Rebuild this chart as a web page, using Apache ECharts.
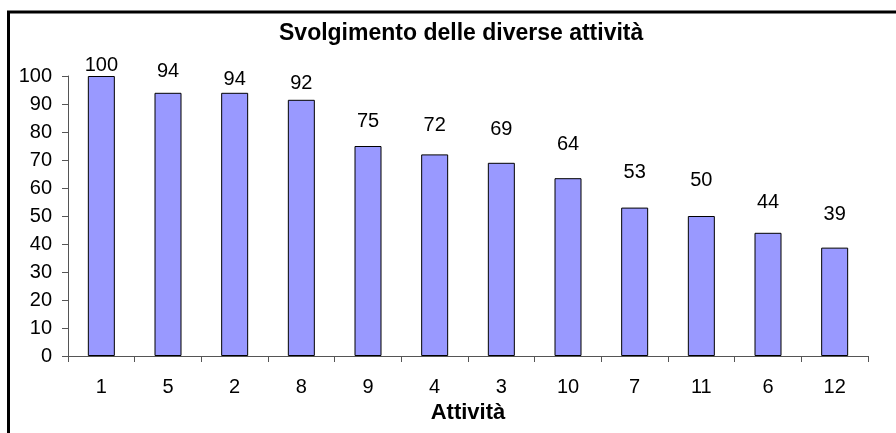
<!DOCTYPE html>
<html>
<head>
<meta charset="utf-8">
<script src="https://cdn.jsdelivr.net/npm/echarts@6/dist/echarts.min.js"></script>
<style>
html,body{margin:0;padding:0;background:#fff;}
#chart{width:896px;height:433px;}
</style>
</head>
<body>
<div id="chart"></div>
<script>
// Data
const titleText = 'Svolgimento delle diverse attività';
const xAxisName = 'Attività';
const categories = ['1', '5', '2', '8', '9', '4', '3', '10', '7', '11', '6', '12'];
const values = [100, 94, 94, 91.5, 75, 72, 69, 63.5, 53, 50, 44, 38.7];
const yTicks = [0, 10, 20, 30, 40, 50, 60, 70, 80, 90, 100];

// Style: per-label gap above bars (labels were placed by hand in the original)
const labelGaps = [1, 11, 3, 6, 15, 19, 23, 24, 25, 26, 20, 23];

const chart = echarts.init(document.getElementById('chart'), null, {renderer: 'canvas'});
const font = 'Liberation Sans, Arial, Helvetica, sans-serif';

chart.setOption({
  backgroundColor: '#ffffff',
  animation: false,
  title: {
    text: titleText,
    left: 274,
    top: 17,
    textStyle: {fontFamily: font, fontSize: 23, fontWeight: 'bold', color: '#000'}
  },
  graphic: [{
    type: 'rect',
    shape: {x: 8.5, y: 12, width: 1000, height: 1000},
    style: {fill: 'none', stroke: '#000', lineWidth: 3},
    silent: true
  }],
  grid: {left: 68, right: 28, top: 76, bottom: 77, containLabel: false},
  xAxis: {
    type: 'category',
    data: categories,
    name: xAxisName,
    nameLocation: 'middle',
    nameGap: 44,
    nameTextStyle: {fontFamily: font, fontSize: 22, fontWeight: 'bold', color: '#000'},
    axisLine: {lineStyle: {color: '#555', width: 1}},
    axisTick: {show: true, alignWithLabel: false, length: 6, lineStyle: {color: '#555'}},
    axisLabel: {fontFamily: font, fontSize: 20, color: '#000', margin: 21},
    splitLine: {show: false}
  },
  yAxis: {
    type: 'value',
    min: yTicks[0],
    max: yTicks[yTicks.length - 1],
    interval: 10,
    axisLine: {show: true, lineStyle: {color: '#555', width: 1}},
    axisTick: {show: true, length: 6, lineStyle: {color: '#555'}},
    axisLabel: {fontFamily: font, fontSize: 20, color: '#000', margin: 16},
    splitLine: {show: false}
  },
  series: [{
    type: 'bar',
    barWidth: 27,
    data: values.map((v, i) => ({
      value: v,
      label: {distance: labelGaps[i]}
    })),
    itemStyle: {color: '#9999FF', borderColor: '#000', borderWidth: 1},
    label: {
      show: true,
      position: 'top',
      fontFamily: font,
      fontSize: 20,
      color: '#000',
      formatter: p => Math.round(p.value)
    }
  }]
});
</script>
</body>
</html>
